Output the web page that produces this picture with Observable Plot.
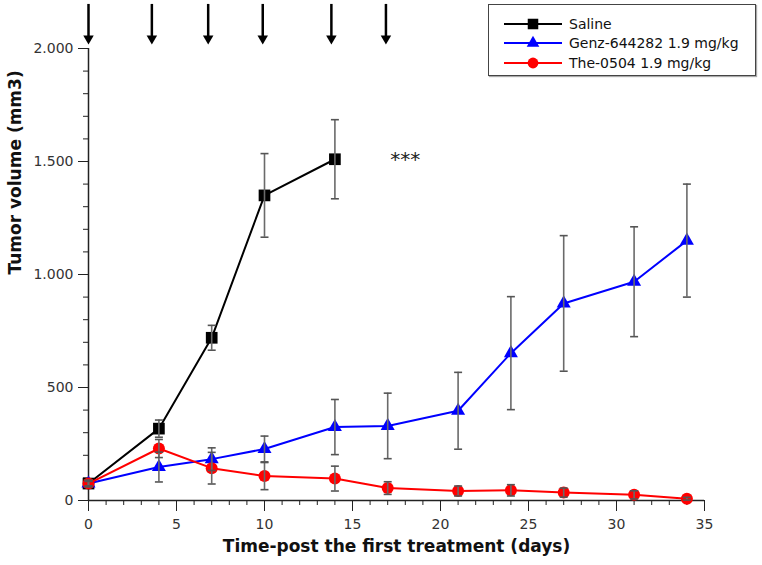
<!DOCTYPE html>
<html>
<head>
<meta charset="utf-8">
<script src="https://cdn.jsdelivr.net/npm/d3@7"></script>
<script src="https://cdn.jsdelivr.net/npm/@observablehq/plot@0.6"></script>
<style>
  html, body { margin: 0; padding: 0; background: #fff; }
  #wrap { position: relative; width: 762px; height: 565px; font-family: "DejaVu Sans", sans-serif; }
  #legend { position: absolute; left: 488px; top: 4px; width: 268px; height: 72px; border: 1px solid #444;
            box-shadow: 1px 1px 1px #aaa; background: #fff; box-sizing: border-box; padding-top: 9px; }
  .row { display: flex; align-items: center; height: 19.5px; font-size: 14px; color: #111; }
  .row svg { margin-left: 15px; margin-right: 5px; }
</style>
</head>
<body>
<div id="wrap"><div id="chart"></div><div id="legend"></div></div>
<script>
// ---- data ----
const salineDays = [0, 4, 7, 10, 14];
const salineMean = [75, 318, 720, 1350, 1510];
const salineSem  = [15, 38, 55, 185, 175];

const days     = [0, 4, 7, 10, 14, 17, 21, 24, 27, 31, 34];
const genzMean = [75, 148, 183, 228, 325, 330, 397, 652, 872, 968, 1150];
const genzSem  = [10, 66, 50, 57, 122, 145, 170, 250, 300, 243, 250];
const theMean  = [75, 230, 143, 108, 97, 55, 42, 45, 35, 25, 8];
const theSem   = [10, 40, 70, 60, 55, 28, 22, 25, 20, 18, 6];

// treatment arrows (as drawn in the figure)
const treatmentDays = [0, 3.6, 6.8, 9.9, 13.8, 16.9];
const arrowTopValue = 2195, arrowHeadValue = 2044;

const xTicks = [0, 5, 10, 15, 20, 25, 30, 35];
const xMinorTicks = d3.range(0, 36, 1);
const yTicks = [0, 500, 1000, 1500, 2000];
const yMinorTicks = d3.range(0, 2001, 100);

const seriesNames = ["Saline", "Genz-644282 1.9 mg/kg", "The-0504 1.9 mg/kg"];
const seriesColors = ["#000000", "#0000ff", "#ff0000"];
const seriesSymbols = ["square", "triangle", "circle"];
const seriesR = [6.6, 5.2, 6.0];
const annotation = {day: 18, value: 1510, text: "***"};

// ---- table ----
const rows = [];
salineDays.forEach((d, i) => rows.push({series: seriesNames[0], day: d, mean: salineMean[i], sem: salineSem[i]}));
days.forEach((d, i) => rows.push({series: seriesNames[1], day: d, mean: genzMean[i], sem: genzSem[i]}));
days.forEach((d, i) => rows.push({series: seriesNames[2], day: d, mean: theMean[i], sem: theSem[i]}));

const capSymbol = { draw(ctx, size) { const w = Math.sqrt(size); ctx.moveTo(-w / 2, 0); ctx.lineTo(w / 2, 0); } };
const fmt = d => d3.format(",")(d).replace(/,/g, ".");

const seriesMarks = seriesNames.flatMap((name, i) => {
  const data = rows.filter(r => r.series === name);
  return [
    Plot.line(data, {x: "day", y: "mean", stroke: seriesColors[i], strokeWidth: 2}),
    Plot.dot(data, {x: "day", y: "mean", fill: seriesColors[i], symbol: seriesSymbols[i], r: seriesR[i], stroke: "none"})
  ];
});

const chart = Plot.plot({
  width: 762,
  height: 565,
  marginLeft: 88,
  marginRight: 58,
  marginTop: 48,
  marginBottom: 65,
  style: {fontFamily: "DejaVu Sans, sans-serif", fontSize: "14px", color: "#222", background: "#fff"},
  x: {domain: [0, 35]},
  y: {domain: [0, 2000]},
  marks: [
    Plot.axisX(xMinorTicks, {tickSize: 5, text: null, label: null, stroke: "#222"}),
    Plot.axisX(xTicks, {tickSize: 11, tickPadding: 8, stroke: "#222", label: null, fill: "#333"}),
    Plot.axisY(yMinorTicks, {tickSize: 5, text: null, label: null, stroke: "#222"}),
    Plot.axisY(yTicks, {tickSize: 10, tickPadding: 5, tickFormat: fmt, stroke: "#222", label: null, fill: "#333"}),
    Plot.ruleY([0], {stroke: "#222", strokeWidth: 1.5}),
    Plot.ruleX([0], {stroke: "#222", strokeWidth: 1.5}),
    ...seriesMarks,
    Plot.ruleX(rows, {x: "day", y1: d => d.mean - d.sem, y2: d => d.mean + d.sem, stroke: "#6a6a6a", strokeWidth: 1.6}),
    Plot.dot(rows, {x: "day", y: d => d.mean + d.sem, symbol: capSymbol, r: 4.5, stroke: "#555", strokeWidth: 1.6}),
    Plot.dot(rows, {x: "day", y: d => d.mean - d.sem, symbol: capSymbol, r: 4.5, stroke: "#555", strokeWidth: 1.6}),
    Plot.ruleX(treatmentDays, {x: d => d, y1: arrowTopValue, y2: arrowHeadValue, stroke: "#000", strokeWidth: 2.5}),
    Plot.dot(treatmentDays, {x: d => d, y: arrowHeadValue, symbol: "triangle", rotate: 180, r: 3.9, fill: "#000", stroke: "none"}),
    Plot.text([annotation], {x: "day", y: "value", text: "text", fontSize: 20, fill: "#222"}),
    Plot.text(["Tumor volume (mm3)"], {frameAnchor: "left", dx: -73, rotate: -90, fontSize: 17, fontWeight: "bold", fill: "#111"}),
    Plot.text(["Time-post the first treatment (days)"], {frameAnchor: "bottom", dy: 51, fontSize: 17, fontWeight: "bold", fill: "#111"})
  ]
});
document.getElementById("chart").appendChild(chart);

// ---- legend ----
const legend = document.getElementById("legend");
const symbolPath = (s, r) => d3.symbol(s === "square" ? d3.symbolSquare : s === "triangle" ? d3.symbolTriangle : d3.symbolCircle, Math.PI * r * r)();
seriesNames.forEach((name, i) => {
  const row = document.createElement("div");
  row.className = "row";
  const svg = d3.create("svg").attr("width", 60).attr("height", 16);
  svg.append("line").attr("x1", 0).attr("x2", 58).attr("y1", 8).attr("y2", 8).attr("stroke", seriesColors[i]).attr("stroke-width", 2);
  svg.append("path").attr("d", symbolPath(seriesSymbols[i], seriesR[i] * 0.9)).attr("transform", "translate(29,8)").attr("fill", seriesColors[i]);
  row.appendChild(svg.node());
  const span = document.createElement("span");
  span.textContent = name;
  row.appendChild(span);
  legend.appendChild(row);
});
</script>
</body>
</html>
